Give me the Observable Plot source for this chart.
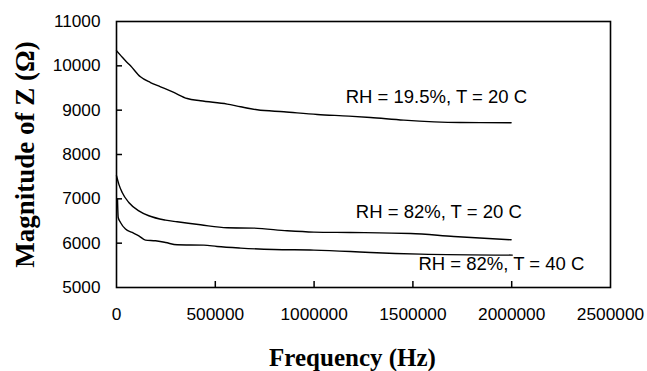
<!DOCTYPE html>
<html><head><meta charset="utf-8">
<script src="https://cdn.jsdelivr.net/npm/d3@7"></script>
<script src="https://cdn.jsdelivr.net/npm/@observablehq/plot@0.6"></script>
<style>body{margin:0;background:#fff}</style>
</head><body><div id="chart"></div>
<script>
// Series 1: RH = 19.5%, T = 20 C
const freq1 = [0, 22000, 45500, 71000, 121000, 172000, 223000, 290000, 358000, 425000, 560000, 628000, 712000, 847000, 1016000, 1176000, 1285000, 1454000, 1741000, 1997000];
const z1    = [10339, 10230, 10114, 10001, 9753, 9624, 9527, 9399, 9263, 9211, 9137, 9076, 9008, 8963, 8902, 8866, 8835, 8776, 8722, 8715];
// Series 2: RH = 82%, T = 20 C
const freq2 = [0, 11600, 28800, 62200, 112900, 163500, 248000, 307000, 425000, 560000, 695000, 864000, 999000, 1184000, 1488000, 1707000, 1997000];
const z2    = [7520, 7332, 7143, 6917, 6730, 6618, 6520, 6482, 6414, 6347, 6340, 6279, 6250, 6241, 6218, 6150, 6076];
// Series 3: RH = 82%, T = 40 C
const freq3 = [5000, 8600, 20200, 45500, 79500, 112900, 146800, 197400, 248000, 307000, 442000, 509000, 628000, 796000, 999000, 1184000, 1285000, 1538000, 2003000];
const z3    = [6994, 6579, 6466, 6317, 6241, 6166, 6069, 6054, 6015, 5963, 5956, 5925, 5889, 5857, 5844, 5812, 5790, 5753, 5731];

const seriesNames = ["RH = 19.5%, T = 20 C", "RH = 82%, T = 20 C", "RH = 82%, T = 40 C"];
const labelFreq = [1619000, 1631000, 1948000];
const labelZ = [9302, 6692, 5528];

const xTicks = [0, 500000, 1000000, 1500000, 2000000, 2500000];
const yTicks = [5000, 6000, 7000, 8000, 9000, 10000, 11000];
const xTitle = "Frequency (Hz)";
const yTitle = "Magnitude of Z (Ω)";

const rows = [];
[[freq1, z1], [freq2, z2], [freq3, z3]].forEach(([fs, zs], i) => {
  fs.forEach((f, j) => rows.push({series: seriesNames[i], f, z: zs[j]}));
});
const labels = seriesNames.map((name, i) => ({name, f: labelFreq[i], z: labelZ[i]}));

const serif = "'Liberation Serif', 'Times New Roman', serif";
const fmt = d3.format("d");

const plot = Plot.plot({
  width: 647, height: 371,
  marginLeft: 116, marginRight: 37, marginTop: 21, marginBottom: 84,
  style: {fontFamily: "'Liberation Sans', Arial, sans-serif", fontSize: "17.3px", color: "black", background: "white"},
  x: {domain: [0, 2500000]},
  y: {domain: [5000, 11000]},
  marks: [
    Plot.axisX({ticks: xTicks, tickSize: 0, tickPadding: 20, tickFormat: fmt, label: null, fontSize: 17.3}),
    Plot.axisY({ticks: yTicks, tickSize: 0, tickPadding: 16, tickFormat: fmt, label: null, fontSize: 17.2}),
    Plot.tickX(xTicks.slice(1, -1), {x: d => d, insetTop: 260, stroke: "black", strokeWidth: 1.5}),
    Plot.tickY(yTicks.slice(1, -1), {y: d => d, insetRight: 488, stroke: "black", strokeWidth: 1.5}),
    Plot.line(rows, {x: "f", y: "z", z: "series", stroke: "black", strokeWidth: 1.4, curve: "monotone-x"}),
    Plot.text(labels, {x: "f", y: "z", text: "name", fontSize: 18.5, fill: "black", lineAnchor: "middle"}),
    Plot.frame({stroke: "black", strokeWidth: 1.6}),
    Plot.text([xTitle], {text: d => d, frameAnchor: "bottom", dy: 78, dx: -11, lineAnchor: "bottom", fontFamily: serif, fontWeight: "bold", fontSize: 25, fill: "black"}),
    Plot.text([yTitle], {text: d => d, frameAnchor: "left", textAnchor: "middle", dx: -83, rotate: -90, lineAnchor: "bottom", fontFamily: serif, fontWeight: "bold", fontSize: 27, fill: "black"})
  ]
});
document.getElementById("chart").appendChild(plot);
</script>
</body></html>
